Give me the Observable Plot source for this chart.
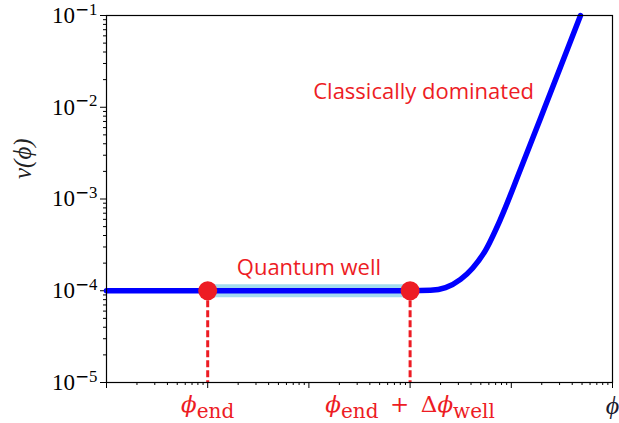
<!DOCTYPE html>
<html>
<head>
<meta charset="utf-8">
<script src="https://cdn.jsdelivr.net/npm/d3@7"></script>
<script src="https://cdn.jsdelivr.net/npm/@observablehq/plot@0.6"></script>
<style>
  html, body { margin: 0; padding: 0; background: #fff; }
  #chart svg { display: block; }
</style>
</head>
<body>
<div id="chart"></div>
<script>
// Potential v(ϕ): flat plateau (quantum well) followed by a steep classical rise
const phi = [1, 10, 100, 1000, 1590, 2240, 3150, 4140, 5560, 7820, 12330, 19450, 30630, 48300];
const v   = [1e-4, 1e-4, 1e-4, 1e-4, 1.01e-4, 1.08e-4, 1.33e-4, 1.76e-4, 2.76e-4, 6.03e-4, 2.11e-3, 7.61e-3, 2.74e-2, 0.1];

// Edges of the quantum well and the plateau level
const wellPhi = [10, 1000];
const wellV = 1e-4;

// Axis ticks and labels
const yTicks = [1e-5, 1e-4, 1e-3, 1e-2, 1e-1];
const yTickLabels = ["10^{−5}", "10^{−4}", "10^{−3}", "10^{−2}", "10^{−1}"];
const xDomain = [1, 1e5];
const xMajor = [1, 10, 100, 1e3, 1e4, 1e5];
const xLabelTicks = [10, 1000];
const xTickLabels = ["ϕ_{end}", "ϕ_{end}\u2002+\u2002Δϕ_{well}"];
const xAxisLabel = "ϕ";
const yAxisLabel = "v(ϕ)";

// Region annotations
const notes = [
  {text: "Classically dominated", phi: 1360, v: 0.0146}
];
const wellNote = "Quantum well";

const curve = phi.map((p, i) => ({phi: p, v: v[i]}));
const well = wellPhi.map(p => ({phi: p, v: wellV}));

const red = "#ed1c24";
const serif = "'Liberation Serif', 'DejaVu Serif', serif";
const wideSerif = "'DejaVu Serif', 'Liberation Serif', serif";
const sans = "'Open Sans', 'Noto Sans', sans-serif";

const minorOf = (domain, majors) =>
  d3.scaleLog().domain(domain).ticks().filter(t => !majors.some(m => Math.abs(m - t) / m < 1e-9));
const xMinor = minorOf(xDomain, xMajor);
const yMinor = minorOf([yTicks[0], yTicks[yTicks.length - 1]], yTicks);

const chart = Plot.plot({
  width: 619,
  height: 423,
  marginLeft: 106,
  marginRight: 7,
  marginTop: 15,
  marginBottom: 41,
  x: {type: "log", domain: xDomain},
  y: {type: "log", domain: [yTicks[0], yTicks[yTicks.length - 1]]},
  marks: [
    Plot.axisY(yTicks, {tickSize: 6, tickPadding: 3, label: null,
      tickFormat: d => yTickLabels[yTicks.indexOf(d)], fontSize: 23, fontFamily: serif}),
    Plot.axisY(yMinor, {tickSize: 3, label: null, tickFormat: () => ""}),
    Plot.axisX(xMajor, {tickSize: 6, label: null, tickFormat: () => ""}),
    Plot.axisX(xMinor, {tickSize: 3, label: null, tickFormat: () => ""}),

    // quantum well highlight under the plateau
    Plot.line(well, {x: "phi", y: "v", stroke: "#a3dbef", strokeWidth: 13}),
    // potential curve
    Plot.line(curve, {x: "phi", y: "v", stroke: "#0000ff", strokeWidth: 5.5, curve: "monotone-x"}),
    // drop lines from the well edges to the axis
    Plot.ruleX(well, {x: "phi", y1: "v", y2: yTicks[0], stroke: red, strokeWidth: 3, strokeDasharray: "7,3"}),
    Plot.dot(well, {x: "phi", y: "v", r: 9.5, fill: red}),

    Plot.text([wellNote], {x: Math.sqrt(wellPhi[0] * wellPhi[1]), y: wellV, dy: -23,
      fill: red, fontSize: 22, fontFamily: sans}),
    Plot.text(notes, {x: "phi", y: "v", text: "text", fill: red, fontSize: 22, fontFamily: sans}),

    // x tick labels at the well edges
    Plot.text(xLabelTicks, {x: d => d, frameAnchor: "bottom", dy: 29,
      text: d => xTickLabels[xLabelTicks.indexOf(d)], fill: red, fontSize: 23, fontFamily: wideSerif}),
    // axis titles
    Plot.text([xAxisLabel], {x: () => xDomain[1], frameAnchor: "bottom", dy: 31,
      fill: "#1a1a2e", fontSize: 26, fontFamily: serif}),
    Plot.text([yAxisLabel], {frameAnchor: "left", dx: -84, dy: -20, rotate: -90,
      fontSize: 25, fontStyle: "italic", fontFamily: serif, fill: "#222"}),

    Plot.frame({stroke: "black", strokeWidth: 1.2})
  ]
});

document.getElementById("chart").appendChild(chart);

// Tick label typography for the value axis
d3.select(chart).selectAll('g[aria-label="y-axis tick label"]')
  .attr("font-size", 23).attr("font-family", serif)
  .selectAll("text").attr("font-size", 23);

// Turn _{…} and ^{…} into sub/superscript tspans, set ϕ in italics
// and draw minus signs with a wider glyph
function renderScripts(svg) {
  d3.select(svg).selectAll("text").each(function() {
    const el = this;
    const s = el.textContent;
    if (!/[_^]\{|ϕ/.test(s)) return;
    const fs = parseFloat(getComputedStyle(el).fontSize);
    const italicAll = getComputedStyle(el).fontStyle === "italic";
    const parts = [];
    const re = /([_^])\{([^}]*)\}/g;
    let last = 0, m;
    while ((m = re.exec(s))) {
      if (m.index > last) parts.push({t: s.slice(last, m.index), k: "base"});
      parts.push({t: m[2], k: m[1] === "_" ? "sub" : "sup"});
      last = re.lastIndex;
    }
    if (last < s.length) parts.push({t: s.slice(last), k: "base"});
    el.textContent = "";
    let offset = 0;
    for (const p of parts) {
      const target = p.k === "sub" ? 0.3 * fs : p.k === "sup" ? -0.36 * fs : 0;
      const runs = p.t.split(/(ϕ|−)/).filter(Boolean);
      runs.forEach((r, j) => {
        const ts = d3.select(el).append("tspan").text(r);
        if (j === 0 && target !== offset) ts.attr("dy", target - offset);
        if (p.k === "sub") ts.attr("font-size", fs * 0.87);
        if (p.k === "sup") ts.attr("font-size", fs * 0.73);
        if (r === "ϕ" && !italicAll) ts.attr("font-style", "italic");
        if (r === "−") ts.attr("font-family", "'DejaVu Serif', serif");
      });
      offset = target;
    }
  });
}
renderScripts(chart);
</script>
</body>
</html>
